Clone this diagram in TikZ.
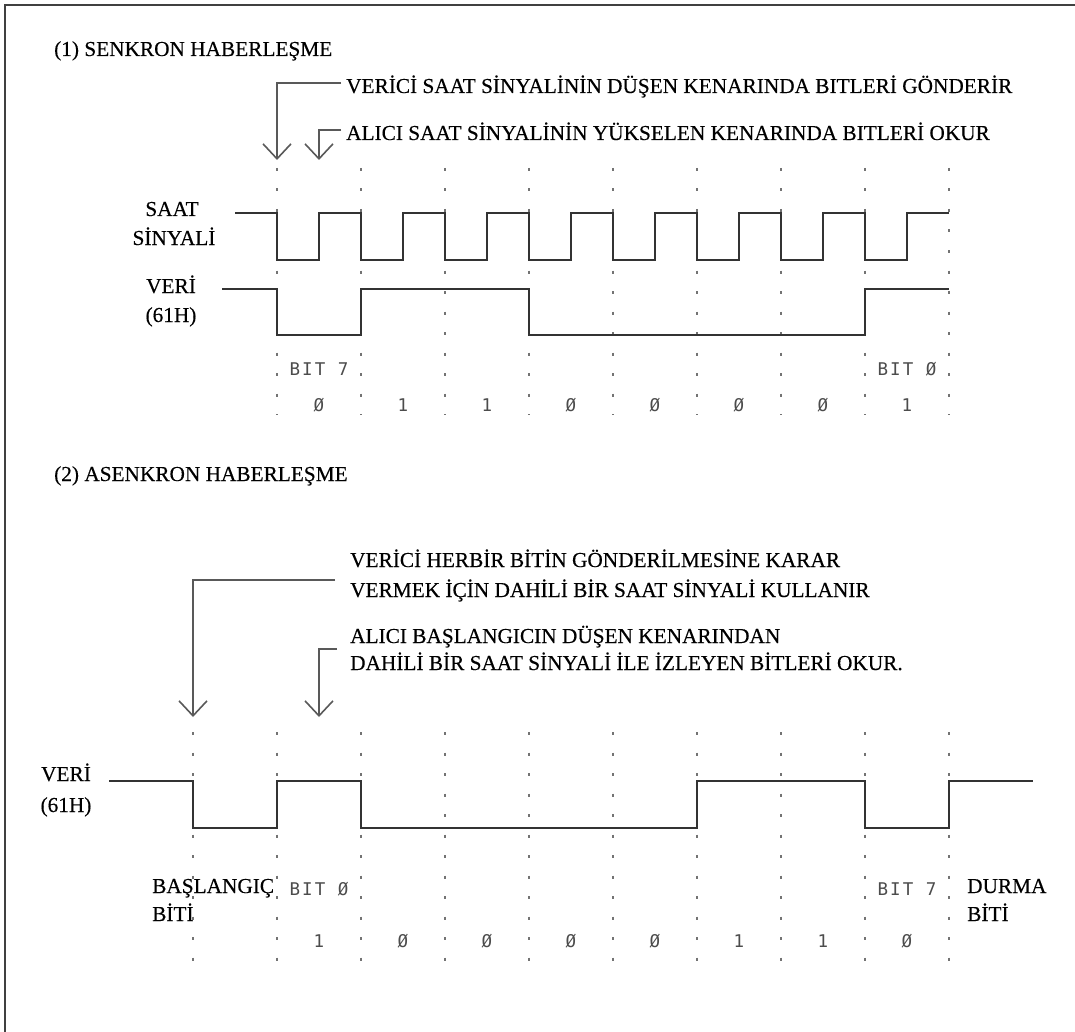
\documentclass[tikz,border=0pt]{standalone}
\usepackage{fontspec}
\setmainfont[FakeBold=0.35]{Liberation Serif}
\newfontfamily\bitfont[LetterSpace=12]{DejaVu Sans Mono}
\usetikzlibrary{arrows.meta}
\begin{document}
\begin{tikzpicture}[x=1pt,y=-1pt,
  txt/.style={font=\fontsize{21.3}{26}\selectfont, inner sep=0pt, anchor=base west},
  lbl/.style={font=\fontsize{21.3}{26}\selectfont, inner sep=0pt, anchor=base},
  wave/.style={line width=1.7pt, draw=black!80, line join=miter},
  gridline/.style={line width=1.3pt, draw=black!55, dash pattern=on 3pt off 17.5pt},
  callout/.style={line width=1.6pt, draw=black!65, -{Straight Barb[length=15pt,width=28pt,line width=1.6pt]}},
  bits/.style={font=\bitfont\fontsize{17.5}{20}\selectfont, text=black!70, inner sep=0pt, anchor=base}]
\useasboundingbox (0,0) rectangle (1075,1032);
\draw[line width=2pt, black!75] (5,1032) -- (5,5) -- (1075,5);

% ---------- (1) synchronous ----------
\node[txt] (title1) at (54,56) {(1) SENKRON HABERLEŞME};
\node[txt] (tA) at (346,93) {VERİCİ SAAT SİNYALİNİN DÜŞEN KENARINDA BITLERİ GÖNDERİR};
\node[txt] (tB) at (346,140) {ALICI SAAT SİNYALİNİN YÜKSELEN KENARINDA BITLERİ OKUR};
\coordinate (sA) at (341,83);
\coordinate (sAt) at (277,160);
\coordinate (sB) at (341,130);
\coordinate (sBt) at (319,160);
\draw[callout] (sA) -| (sAt);
\draw[callout] (sB) -| (sBt);

\foreach \k in {0,...,8} \draw[gridline] ({277+84*\k},168) -- ({277+84*\k},415);

\node[lbl] (saat) at (172,216) {SAAT};
\node[lbl] (sinyal) at (174,245) {SİNYALİ};
\node[lbl] (veri1) at (171,293) {VERİ};
\node[lbl] (hex1) at (171,322) {(61H)};

\draw[wave] (235,213) foreach \k in {0,...,7} { -- ({277+84*\k},213) -- ({277+84*\k},260) -- ({319+84*\k},260) -- ({319+84*\k},213) } -- (949,213);
\draw[wave] (222,289) -- (277,289) -- (277,335) -- (361,335) -- (361,289) -- (529,289) -- (529,335) -- (865,335) -- (865,289) -- (949,289);

\node[bits] (b7s) at (319,375) {BIT 7};
\node[bits] (b0s) at (907,375) {BIT Ø};
\foreach \b [count=\i from 0] in {Ø,1,1,Ø,Ø,Ø,Ø,1}
  \node[bits] (sb\i) at ({319+84*\i},411) {\b};

% ---------- (2) asynchronous ----------
\node[txt] (title2) at (54,481) {(2) ASENKRON HABERLEŞME};
\node[txt] (tC1) at (350,567) {VERİCİ HERBİR BİTİN GÖNDERİLMESİNE KARAR};
\node[txt] (tC2) at (350,597) {VERMEK İÇİN DAHİLİ BİR SAAT SİNYALİ KULLANIR};
\node[txt] (tD1) at (350,643) {ALICI BAŞLANGICIN DÜŞEN KENARINDAN};
\node[txt] (tD2) at (350,670) {DAHİLİ BİR SAAT SİNYALİ İLE İZLEYEN BİTLERİ OKUR.};
\coordinate (aC) at (335,580);
\coordinate (aCt) at (193,717);
\coordinate (aD) at (337,649);
\coordinate (aDt) at (319,717);
\draw[callout] (aC) -| (aCt);
\draw[callout] (aD) -| (aDt);

\foreach \k in {0,...,9} \draw[gridline] ({193+84*\k},732) -- ({193+84*\k},968);

\node[lbl] (veri2) at (66,781) {VERİ};
\node[lbl] (hex2) at (66,812) {(61H)};
\draw[wave] (109,781) -- (193,781) -- (193,828) -- (277,828) -- (277,781) -- (361,781) -- (361,828) -- (697,828) -- (697,781) -- (865,781) -- (865,828) -- (949,828) -- (949,781) -- (1033,781);

\node[txt] (start1) at (152,893) {BAŞLANGIÇ};
\node[txt] (start2) at (152,921) {BİTİ};
\node[txt] (stop1) at (967,893) {DURMA};
\node[txt] (stop2) at (967,921) {BİTİ};
\node[bits] (b0a) at (319,895) {BIT Ø};
\node[bits] (b7a) at (907,895) {BIT 7};
\foreach \b [count=\i from 0] in {1,Ø,Ø,Ø,Ø,1,1,Ø}
  \node[bits] (ab\i) at ({319+84*\i},947) {\b};
\end{tikzpicture}
\end{document}
